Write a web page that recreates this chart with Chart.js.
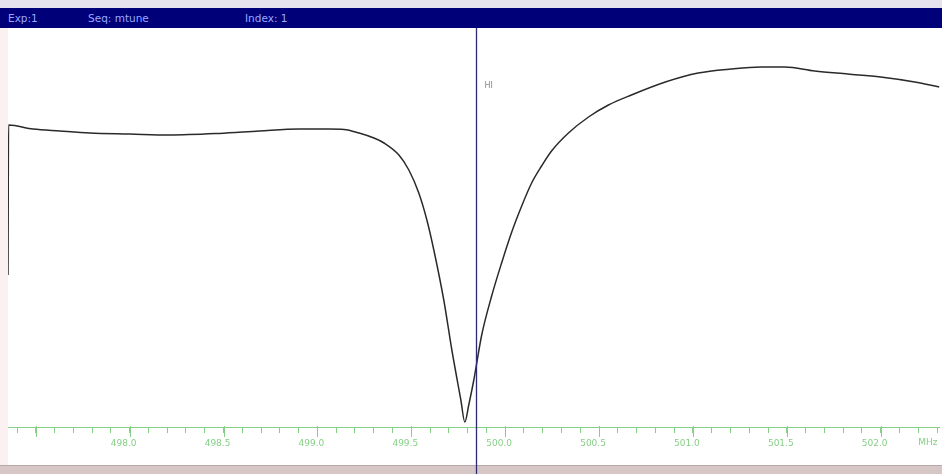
<!DOCTYPE html>
<html>
<head>
<meta charset="utf-8">
<script src="https://cdn.jsdelivr.net/npm/chart.js@4.4.1/dist/chart.umd.min.js"></script>
<style>
  body { margin: 0; width: 942px; height: 474px; background: #fbf1f1; overflow: hidden; position: relative; font-family: "DejaVu Sans", sans-serif; }
  #topstrip { position: absolute; left: 0; top: 0; width: 942px; height: 8px; background: #e6e2ee; }
  #header { position: absolute; left: 0; top: 8px; width: 942px; height: 20px; background: #000078; color: #9aa8ff; font-size: 10.5px; line-height: 20px; }
  #header span { position: absolute; top: 0; }
  #plotbg { position: absolute; left: 8px; top: 28px; width: 934px; height: 437px; background: #ffffff; }
  #bottomstrip { position: absolute; left: 0; top: 465px; width: 942px; height: 9px; background: #d6c6c6; border-top: 1px solid #b8a8a8; }
  #wrap { position: absolute; left: 8px; top: 28px; width: 934px; height: 446px; }
</style>
</head>
<body>
<div id="topstrip"></div>
<div id="header">
  <span style="left:8px">Exp:1</span>
  <span style="left:88px">Seq: mtune</span>
  <span style="left:245px">Index: 1</span>
</div>
<div id="plotbg"></div>
<div id="bottomstrip"></div>
<div id="wrap"><canvas id="tuneChart"></canvas></div>
<script>
// frequency (MHz) and reflected signal (arbitrary units)
const freqMHz = [497.352, 497.355, 497.485, 497.628, 497.788, 498.000, 498.212, 498.478, 498.691, 498.903,
  499.062, 499.142, 499.222, 499.301, 499.355, 499.434, 499.487, 499.540, 499.583, 499.620,
  499.673, 499.716, 499.764, 499.785, 499.806, 499.833, 499.875, 499.928, 499.981, 500.035,
  500.088, 500.141, 500.194, 500.247, 500.337, 500.444, 500.550, 500.672, 500.853, 501.028,
  501.203, 501.363, 501.490, 501.649, 501.825, 502.000, 502.181, 502.313];
const signal = [38.0, 75.5, 74.5, 74.0, 73.5, 73.25, 73.0, 73.4, 74.0, 74.5,
  74.5, 74.4, 73.5, 72.25, 71.0, 68.0, 64.25, 58.5, 51.75, 44.25,
  31.75, 19.25, 6.75, 1.25, 5.5, 11.75, 23.0, 32.75, 41.0, 48.75,
  55.25, 61.0, 65.25, 69.0, 73.5, 77.5, 80.5, 83.0, 86.25, 88.5,
  89.5, 90.0, 90.0, 89.0, 88.25, 87.5, 86.25, 85.0];
const cursorMHz = 499.845;
const cursorLabel = 'HI';
const tickLabelsMHz = [498.0, 498.5, 499.0, 499.5, 500.0, 500.5, 501.0, 501.5, 502.0];
const unitLabel = 'MHz';

const green = '#86cf86';

const points = freqMHz.map((f, i) => ({ x: f, y: signal[i] }));

function isLabelled(v) {
  return tickLabelsMHz.some(t => Math.abs(t - v) < 1e-6);
}

// cursor line, longer major ticks and unit text
const overlay = {
  id: 'overlay',
  afterDraw(chart) {
    const ctx = chart.ctx;
    const x = chart.scales.x;
    const area = chart.chartArea;
    ctx.save();
    ctx.strokeStyle = green;
    ctx.lineWidth = 1;
    for (let v = 497.5; v <= 502.3; v += 0.5) {
      const px = Math.round(x.getPixelForValue(v)) + 0.5;
      ctx.beginPath();
      ctx.moveTo(px, area.bottom - 1);
      ctx.lineTo(px, area.bottom + 10);
      ctx.stroke();
    }
    ctx.fillStyle = green;
    ctx.font = '9px "DejaVu Sans"';
    ctx.textAlign = 'left';
    ctx.textBaseline = 'middle';
    ctx.fillText(unitLabel, x.getPixelForValue(502.2), area.bottom + 16);

    const cx = Math.round(x.getPixelForValue(cursorMHz)) + 0.5;
    ctx.strokeStyle = '#2c2c70';
    ctx.lineWidth = 1.3;
    ctx.beginPath();
    ctx.moveTo(cx, 0);
    ctx.lineTo(cx, chart.height);
    ctx.stroke();
    ctx.fillStyle = '#8a8a8a';
    ctx.font = '8px "DejaVu Sans"';
    ctx.fillText(cursorLabel, cx + 8, 58);
    ctx.restore();
  }
};

new Chart(document.getElementById('tuneChart'), {
  type: 'line',
  data: {
    datasets: [{
      data: points,
      borderColor: '#2a2a2a',
      borderWidth: 1.5,
      pointRadius: 0,
      cubicInterpolationMode: 'monotone',
      fill: false
    }]
  },
  options: {
    responsive: true,
    maintainAspectRatio: false,
    animation: false,
    events: [],
    layout: { padding: 0 },
    plugins: { legend: { display: false }, tooltip: { enabled: false } },
    scales: {
      x: {
        type: 'linear',
        min: 497.352,
        max: 502.313,
        border: { display: true, color: green, width: 1 },
        grid: { drawOnChartArea: false, color: green, tickLength: 6 },
        ticks: {
          stepSize: 0.1,
          includeBounds: false,
          autoSkip: false,
          maxTicksLimit: 100,
          maxRotation: 0,
          padding: 5,
          labelOffset: -6,
          color: green,
          font: { size: 9, family: 'DejaVu Sans' },
          callback: v => isLabelled(v) ? v.toFixed(1) : ''
        },
        afterFit: s => { s.height = 47; }
      },
      y: {
        display: false,
        min: 0,
        max: 99.75
      }
    }
  },
  plugins: [overlay]
});
</script>
</body>
</html>
